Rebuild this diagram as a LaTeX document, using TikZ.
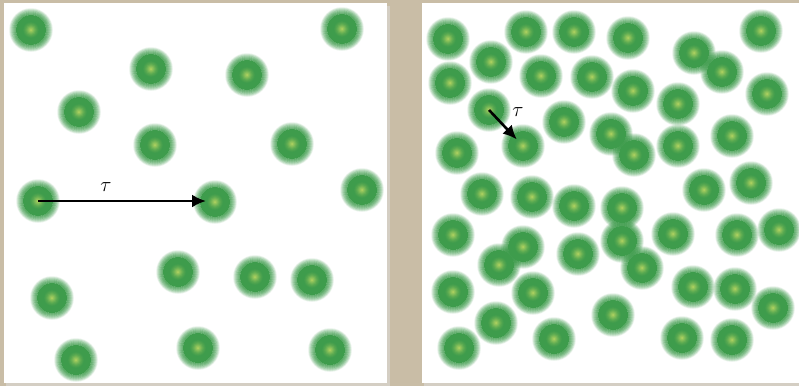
\documentclass[tikz,border=0pt]{standalone}
\usetikzlibrary{arrows.meta}
\definecolor{beige}{RGB}{201,189,166}
\definecolor{gc}{RGB}{178,212,98}
\definecolor{gd}{RGB}{62,156,76}
\tikzset{
  blob/.style={circle, inner sep=0pt, minimum size=44pt},
  vec/.style={line width=2.6pt, -{Latex[length=14pt,width=13pt]}, shorten >=9pt},
  lbl/.style={font=\fontsize{21}{21}\selectfont, inner sep=0pt}
}
\newcommand\blobdraw[1]{%
  \foreach \r in {22,21.5,...,15.5}{%
    \pgfmathsetmacro\op{min(1,((22.25-\r)/7)^0.9)}%
    \fill[fill=gd, fill opacity=\op, even odd rule] (#1) circle[radius=\r] circle[radius=\r-0.5];
  }%
  \fill[fill=gd] (#1) circle[radius=15.02];
  \foreach \r in {9,8.5,...,0.5}{%
    \pgfmathtruncatemacro\pp{min(100,100*((9-\r)/8.5)^1.5)}%
    \fill[fill=gc!\pp!gd] (#1) circle[radius=\r];
  }%
}
\begin{document}
\begin{tikzpicture}[x=1pt,y=-1pt]
\fill[beige] (0,0) rectangle (799,386);
\useasboundingbox (0,0) rectangle (799,386);
\fill[black!12,opacity=0.5] (6,6) rectangle (390,386);
\fill[black!12,opacity=0.5] (424,6) rectangle (799,386);
\fill[white] (4,3) rectangle (387,383);
\fill[white] (422,3) rectangle (799,383);
\begin{scope}
\clip (4,3) rectangle (387,383);
\foreach \x/\y [count=\i] in {31/30, 342/29, 151/69, 247/75, 79/112, 155/145, 292/144, 362/190, 38/201, 215/202, 178/272, 255/277, 312/280, 52/298, 198/348, 330/350, 76/360}{
  \node[blob] (l\i) at (\x,\y) {};
  \blobdraw{l\i}
}
\end{scope}
\begin{scope}
\clip (422,3) rectangle (799,383);
\foreach \x/\y [count=\i] in {448/39, 526/32, 574/32, 628/38, 761/31, 491/62, 541/76, 592/77, 694/53, 722/72, 450/83, 633/91, 678/104, 767/94, 489/110, 564/122, 611/134, 732/136, 457/153, 523/146, 634/155, 678/146, 704/190, 751/183, 482/194, 532/197, 574/206, 622/208, 453/235, 523/247, 578/254, 622/241, 673/234, 737/235, 779/230, 499/265, 642/268, 453/292, 533/293, 693/287, 735/289, 773/308, 613/315, 496/323, 554/339, 459/348, 682/338, 732/340}{
  \node[blob] (r\i) at (\x,\y) {};
  \blobdraw{r\i}
}
\end{scope}
\draw[vec] (l9.center) -- (l10.center |- l9.center);
\node[lbl] (tauL) at (106,187) {$\tau$};
\draw[vec] (r15.center) -- (r20.center);
\node[lbl] (tauR) at (518,112) {$\tau$};
\end{tikzpicture}
\end{document}
